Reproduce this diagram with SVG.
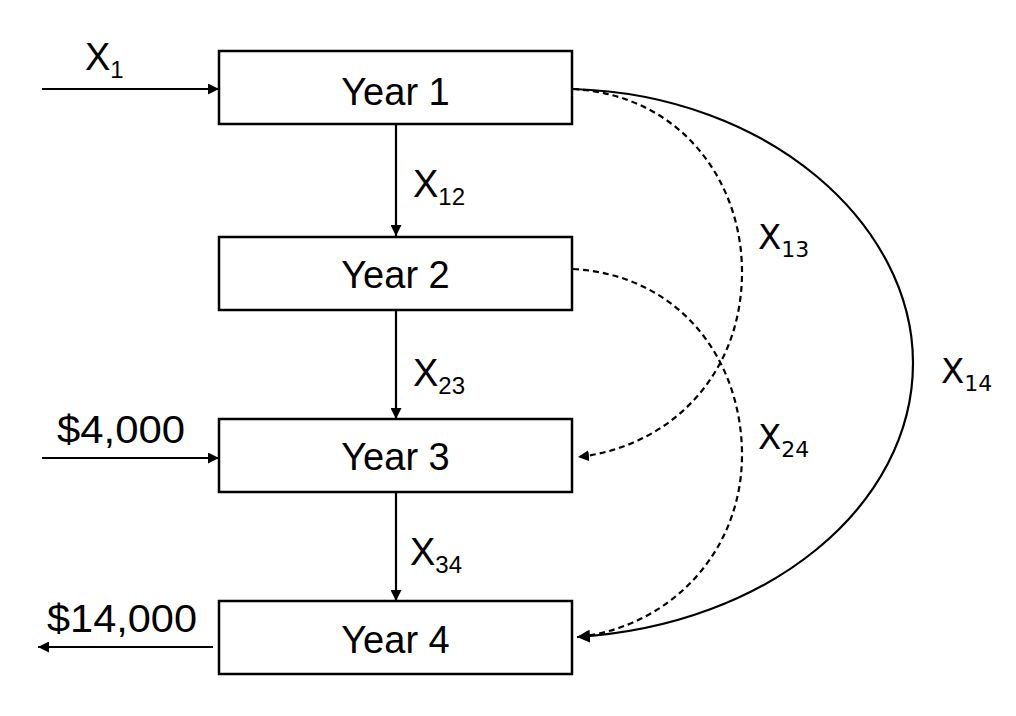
<svg xmlns="http://www.w3.org/2000/svg" width="1016" height="716" viewBox="0 0 1016 716">
<style>
.box{fill:#fff;stroke:#000;stroke-width:2.5}
.lbl{font-family:"Liberation Sans",Arial,sans-serif;font-size:38px;fill:#000}
.sub{font-size:24px}
.rl{font-family:"DejaVu Sans",Verdana,sans-serif;font-size:34px;fill:#000}
.rsub{font-size:22px}
.ln{fill:none;stroke:#000;stroke-width:2.2}
.dash{stroke-dasharray:6 4}
</style>
<defs>
<marker id="ah" viewBox="0 0 10 10" refX="10" refY="5" markerWidth="11" markerHeight="11" markerUnits="userSpaceOnUse" orient="auto">
<path d="M0,0 L10,5 L0,10 Z" fill="#000"/>
</marker>
<marker id="ahb" viewBox="0 0 12 12" refX="12" refY="6" markerWidth="13" markerHeight="13" markerUnits="userSpaceOnUse" orient="auto">
<path d="M0,0 L12,6 L0,12 Z" fill="#000"/>
</marker>
</defs>
<rect width="1016" height="716" fill="#fff"/>
<g id="connectors">
<line class="ln" x1="42" y1="89" x2="219" y2="89" marker-end="url(#ah)"/>
<line class="ln" x1="42" y1="458" x2="219" y2="458" marker-end="url(#ah)"/>
<line class="ln" x1="213" y1="647" x2="38" y2="647" stroke="#333" stroke-width="2.6" marker-end="url(#ah)"/>
<line class="ln" x1="396" y1="125" x2="396" y2="236" marker-end="url(#ah)"/>
<line class="ln" x1="396" y1="310" x2="396" y2="419" marker-end="url(#ah)"/>
<line class="ln" x1="396" y1="493" x2="396" y2="601" marker-end="url(#ah)"/>
<path class="ln" d="M573,89 C770,95 913,225 913,363 C913,505 770,625 577,637" marker-end="url(#ahb)"/>
<path class="ln dash" d="M573,89 C680,95 742,180 742,272 C742,375 670,447 578,457" marker-end="url(#ah)"/>
<path class="ln dash" d="M573,269 C680,275 742,360 742,455 C742,552 670,627 578,637" marker-end="url(#ah)"/>
</g>
<g id="year1"><rect class="box" x="219" y="51" width="353" height="73"/><text class="lbl" x="395.5" y="105" text-anchor="middle">Year 1</text></g>
<g id="year2"><rect class="box" x="219" y="237" width="353" height="73"/><text class="lbl" x="395.5" y="288" text-anchor="middle">Year 2</text></g>
<g id="year3"><rect class="box" x="219" y="419" width="353" height="73"/><text class="lbl" x="395.5" y="470" text-anchor="middle">Year 3</text></g>
<g id="year4"><rect class="box" x="219" y="601" width="353" height="73"/><text class="lbl" x="395.5" y="653" text-anchor="middle">Year 4</text></g>
<g id="labels">
<text class="lbl" x="85" y="70">X<tspan class="sub" dy="8">1</tspan></text>
<text class="lbl" x="413" y="197">X<tspan class="sub" dy="8">12</tspan></text>
<text class="lbl" x="413" y="386">X<tspan class="sub" dy="8">23</tspan></text>
<text class="lbl" x="410" y="565">X<tspan class="sub" dy="8">34</tspan></text>
<text class="lbl" x="57" y="443" textLength="128" lengthAdjust="spacingAndGlyphs">$4,000</text>
<text class="lbl" x="47" y="632" textLength="150" lengthAdjust="spacingAndGlyphs">$14,000</text>
<text class="rl" x="758" y="249">X<tspan class="rsub" dy="8">13</tspan></text>
<text class="rl" x="941" y="383">X<tspan class="rsub" dy="8">14</tspan></text>
<text class="rl" x="758" y="449">X<tspan class="rsub" dy="8">24</tspan></text>
</g>
</svg>
